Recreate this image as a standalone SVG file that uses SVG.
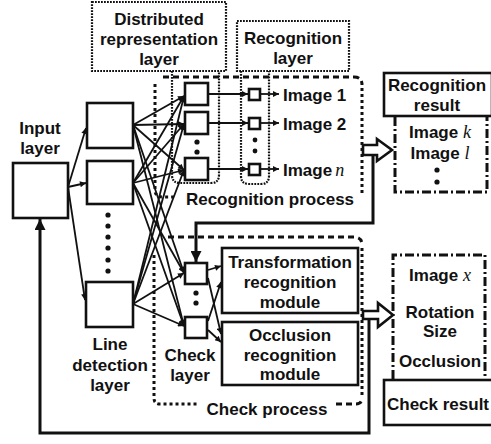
<svg xmlns="http://www.w3.org/2000/svg" width="491" height="444" viewBox="0 0 491 444">
  <style>
    text { font-family: "Liberation Sans", Arial, sans-serif; font-weight: bold; font-size: 17px; fill: #111; text-anchor: middle; }
    .it { font-family: "Liberation Serif", "Times New Roman", serif; font-style: italic; font-weight: normal; font-size: 18px; }
    .box { fill: #fff; stroke: #111; stroke-width: 2.6; }
    .fine { fill: none; stroke: #111; stroke-width: 2.2; stroke-dasharray: 1.8 1.2; }
    .dash { fill: none; stroke: #111; stroke-width: 3; stroke-dasharray: 6 4; }
    .dot { fill: none; stroke: #111; stroke-width: 3; stroke-dasharray: 3 3; }
    .dashdot { fill: none; stroke: #111; stroke-width: 3; stroke-dasharray: 9 3 2 3; }
    .ln { fill: none; stroke: #111; stroke-width: 1.8; marker-end: url(#ah); }
    .thick { fill: none; stroke: #111; stroke-width: 3; }
    .hollow { fill: #fff; stroke: #111; stroke-width: 2.6; stroke-linejoin: miter; }
    .pt { fill: #111; }
  </style>
  <defs>
    <marker id="ah" viewBox="0 0 10 10" refX="10" refY="5" markerWidth="8" markerHeight="6" markerUnits="userSpaceOnUse" orient="auto">
      <path d="M0,0 L10,5 L0,10 z" fill="#111"/>
    </marker>
    <marker id="ahb" viewBox="0 0 10 10" refX="10" refY="5" markerWidth="12" markerHeight="11" markerUnits="userSpaceOnUse" orient="auto">
      <path d="M0,0 L10,5 L0,10 z" fill="#111"/>
    </marker>
  </defs>

  <!-- process frames -->
  <g id="recognition-process">
    <path class="dash" d="M163,77 H354 Q362,77 362,85"/>
    <path class="dot" d="M362,88 V195"/>
    <path class="dot" d="M155,84 V190 Q155,197 163,197 H174"/>
    <text x="270" y="205">Recognition process</text>
  </g>
  <g id="check-process">
    <path class="dash" d="M168,237 H354 Q362,237 362,245"/>
    <path class="dot" d="M362,248 V395"/>
    <path class="dot" d="M154,255 V398 Q154,404 160,404 H198"/>
    <path class="dash" d="M336,404 H356 Q362,404 362,398"/>
    <text x="267" y="415">Check process</text>
  </g>

  <!-- layer captions -->
  <g id="distributed-layer-label">
    <rect class="fine" x="92" y="2" width="134" height="69"/>
    <text x="159" y="25">Distributed</text>
    <text x="159" y="45">representation</text>
    <text x="159" y="65">layer</text>
    <path class="fine" d="M172,71 V175 Q172,183 180,183 H211 Q219,183 219,175 V71"/>
  </g>
  <g id="recognition-layer-label">
    <rect class="fine" x="237" y="21" width="112" height="50"/>
    <text x="293" y="44">Recognition</text>
    <text x="293" y="64">layer</text>
    <path class="fine" d="M241,71 V176 Q241,184 249,184 H261 Q269,184 269,176 V71"/>
  </g>

  <!-- connectors -->
  <g id="connectors">
    <!-- input layer to line detection layer -->
    <path class="ln" d="M68,187 L86,128"/>
    <path class="ln" d="M68,187 L86,183"/>
    <path class="ln" d="M68,187 L85,300"/>
    <!-- line detection layer to distributed representation and check layers -->
    <path class="ln" d="M133,125 L184,96"/>
    <path class="ln" d="M133,125 L184,124"/>
    <path class="ln" d="M133,125 L184,170"/>
    <path class="ln" d="M133,125 L184,273"/>
    <path class="ln" d="M133,125 L184,326"/>
    <path class="ln" d="M133,183 L184,96"/>
    <path class="ln" d="M133,183 L184,124"/>
    <path class="ln" d="M133,183 L184,170"/>
    <path class="ln" d="M133,183 L184,273"/>
    <path class="ln" d="M133,183 L184,326"/>
    <path class="ln" d="M133,304 L184,96"/>
    <path class="ln" d="M133,304 L184,124"/>
    <path class="ln" d="M133,304 L184,170"/>
    <path class="ln" d="M133,304 L184,273"/>
    <path class="ln" d="M133,304 L184,326"/>
    <!-- distributed representation to recognition units -->
    <path class="ln" d="M208,94 H248"/>
    <path class="ln" d="M208,123 H248"/>
    <path class="ln" d="M208,169 H248"/>
    <path class="ln" d="M261,94 H279"/>
    <path class="ln" d="M261,123 H279"/>
    <path class="ln" d="M261,169 H279"/>
    <!-- check layer to modules -->
    <path class="ln" d="M208,270 L221,266"/>
    <path class="ln" d="M208,278 L221,334"/>
    <path class="ln" d="M208,321 L221,282"/>
    <path class="ln" d="M208,330 L221,342"/>
    <!-- recognition result feeds the check layer -->
    <path class="thick" d="M373,155 V223 H196 V262" marker-end="url(#ahb)"/>
    <!-- check result feeds back to the input layer -->
    <path class="thick" d="M369,319 V433 H40 V219" marker-end="url(#ahb)"/>
    <!-- hollow output arrows -->
    <path class="hollow" d="M363,145 H377 V139 L392,150 L377,161 V155 H363 Z"/>
    <path class="hollow" d="M363,311 H378 V303 L393,315 L378,327 V319 H363 Z"/>
  </g>

  <g id="input-layer">
    <rect class="box" x="13" y="163" width="55" height="55"/>
    <text x="40" y="134">Input</text>
    <text x="40" y="154">layer</text>
  </g>

  <g id="line-detection-layer">
    <rect class="box" x="87" y="103" width="46" height="45"/>
    <rect class="box" x="87" y="161" width="46" height="43"/>
    <rect class="box" x="86" y="282" width="47" height="45"/>
    <circle class="pt" cx="108" cy="215" r="2.6"/>
    <circle class="pt" cx="108" cy="226" r="2.6"/>
    <circle class="pt" cx="108" cy="237" r="2.6"/>
    <circle class="pt" cx="108" cy="248" r="2.6"/>
    <circle class="pt" cx="108" cy="260" r="2.6"/>
    <circle class="pt" cx="108" cy="271" r="2.6"/>
    <text x="110" y="350">Line</text>
    <text x="110" y="371">detection</text>
    <text x="110" y="391">layer</text>
  </g>

  <g id="distributed-units">
    <rect class="box" x="185" y="83" width="23" height="22"/>
    <rect class="box" x="185" y="112" width="23" height="22"/>
    <rect class="box" x="185" y="158" width="23" height="22"/>
    <circle class="pt" cx="197" cy="142" r="2.6"/>
    <circle class="pt" cx="197" cy="152" r="2.6"/>
  </g>

  <g id="recognition-units">
    <rect class="box" x="249" y="89" width="11" height="11"/>
    <rect class="box" x="249" y="118" width="11" height="11"/>
    <rect class="box" x="249" y="164" width="11" height="11"/>
    <circle class="pt" cx="255" cy="140" r="2.4"/>
    <circle class="pt" cx="255" cy="151" r="2.4"/>
    <text x="283" y="101" style="text-anchor:start">Image 1</text>
    <text x="283" y="130" style="text-anchor:start">Image 2</text>
    <text x="283" y="176" style="text-anchor:start">Image<tspan class="it" dx="3">n</tspan></text>
  </g>

  <g id="recognition-result">
    <rect class="box" x="384" y="73" width="108" height="43"/>
    <text x="437" y="91">Recognition</text>
    <text x="437" y="111">result</text>
    <path class="dashdot" d="M395,117 V192 H487 V117"/>
    <text x="440" y="138">Image <tspan class="it">k</tspan></text>
    <text x="440" y="159">Image <tspan class="it">l</tspan></text>
    <circle class="pt" cx="437" cy="170" r="2.6"/>
    <circle class="pt" cx="437" cy="182" r="2.6"/>
  </g>

  <g id="check-layer">
    <rect class="box" x="185" y="263" width="22" height="21"/>
    <rect class="box" x="185" y="317" width="22" height="21"/>
    <circle class="pt" cx="196" cy="293" r="2.6"/>
    <circle class="pt" cx="196" cy="303" r="2.6"/>
    <text x="190" y="361">Check</text>
    <text x="190" y="381">layer</text>
  </g>

  <g id="transformation-module">
    <rect class="box" x="222" y="248" width="136" height="65"/>
    <text x="290" y="268">Transformation</text>
    <text x="290" y="288">recognition</text>
    <text x="290" y="308">module</text>
  </g>

  <g id="occlusion-module">
    <rect class="box" x="222" y="322" width="136" height="63"/>
    <text x="290" y="341">Occlusion</text>
    <text x="290" y="361">recognition</text>
    <text x="290" y="380">module</text>
  </g>

  <g id="check-result">
    <path class="dashdot" d="M393,379 V255 H485 V379"/>
    <text x="440" y="281">Image <tspan class="it">x</tspan></text>
    <text x="440" y="318">Rotation</text>
    <text x="440" y="337">Size</text>
    <text x="440" y="367">Occlusion</text>
    <rect class="box" x="384" y="380" width="110" height="45"/>
    <text x="438" y="410">Check result</text>
  </g>
</svg>
